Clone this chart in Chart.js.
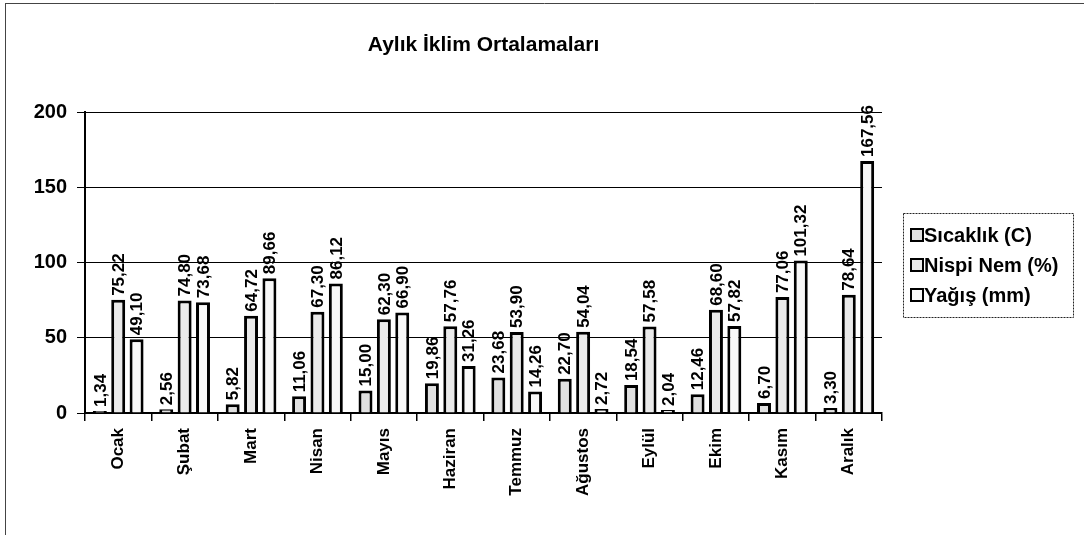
<!DOCTYPE html>
<html lang="tr">
<head>
<meta charset="utf-8">
<title>Aylık İklim Ortalamaları</title>
<script src="https://cdn.jsdelivr.net/npm/chart.js@4.4.1/dist/chart.umd.min.js"></script>
<style>
  html, body { margin: 0; padding: 0; background: #fff; }
  #wrap { width: 1084px; height: 535px; }
</style>
</head>
<body>
<div id="wrap"><canvas id="climateChart" width="1084" height="535"></canvas></div>
<script>
// ── Data ─────────────────────────────────────────────────────────────────────
const months    = ['Ocak', 'Şubat', 'Mart', 'Nisan', 'Mayıs', 'Haziran', 'Temmuz', 'Ağustos', 'Eylül', 'Ekim', 'Kasım', 'Aralık'];
const sicaklik  = [1.34, 2.56, 5.82, 11.06, 15.00, 19.86, 23.68, 22.70, 18.54, 12.46, 6.70, 3.30];
const nispiNem  = [75.22, 74.80, 64.72, 67.30, 62.30, 57.76, 53.90, 54.04, 57.58, 68.60, 77.06, 78.64];
const yagis     = [49.10, 73.68, 89.66, 86.12, 66.90, 31.26, 14.26, 2.72, 2.04, 57.82, 101.32, 167.56];
const yTicks    = [0, 50, 100, 150, 200];

const FONT = '"Liberation Sans", Arial, sans-serif';

// ── Helpers ──────────────────────────────────────────────────────────────────
const fmt = v => v.toFixed(2).replace('.', ',');

// value labels standing upright above each bar
const barLabels = {
    id: 'barLabels',
    afterDatasetsDraw(chart) {
        const ctx = chart.ctx;
        ctx.save();
        ctx.font = 'bold 17px ' + FONT;
        ctx.fillStyle = '#000';
        ctx.textAlign = 'left';
        ctx.textBaseline = 'middle';
        chart.data.datasets.forEach((ds, i) => {
            chart.getDatasetMeta(i).data.forEach((bar, j) => {
                ctx.save();
                ctx.translate(bar.x + 1, bar.y - 4);
                ctx.rotate(-Math.PI / 2);
                ctx.fillText(fmt(ds.data[j]), 0, 0);
                ctx.restore();
            });
        });
        ctx.restore();
    }
};

// frame lines + boxed legend on the right
const frameAndLegend = {
    id: 'frameAndLegend',
    beforeDraw(chart) {
        const ctx = chart.ctx;
        ctx.save();
        ctx.fillStyle = '#fff';
        ctx.fillRect(0, 0, chart.width, chart.height);
        ctx.strokeStyle = '#444';
        ctx.lineWidth = 1;
        ctx.beginPath();
        ctx.moveTo(5.5, 3); ctx.lineTo(5.5, chart.height);
        ctx.moveTo(5, 3.5); ctx.lineTo(chart.width, 3.5);
        ctx.stroke();
        ctx.restore();
    },
    afterDraw(chart) {
        const ctx = chart.ctx;
        const a = chart.chartArea;
        const left = a.right + 21, top = 213, w = 170, h = 104;
        ctx.save();
        ctx.strokeStyle = '#222';
        ctx.lineWidth = 1;
        ctx.setLineDash([2, 1]);
        ctx.strokeRect(left + 0.5, top + 0.5, w, h);
        ctx.setLineDash([]);
        ctx.font = 'bold 20px ' + FONT;
        ctx.textBaseline = 'middle';
        ctx.textAlign = 'left';
        chart.data.datasets.forEach((ds, i) => {
            const cy = top + 22 + i * 30;
            ctx.fillStyle = ds.backgroundColor;
            ctx.fillRect(left + 8, cy - 6, 12, 12);
            ctx.strokeStyle = '#000';
            ctx.lineWidth = 2;
            ctx.strokeRect(left + 8, cy - 6, 12, 12);
            ctx.fillStyle = '#000';
            ctx.fillText(ds.label, left + 21, cy + 1);
        });
        ctx.restore();
    }
};

// ── Chart ────────────────────────────────────────────────────────────────────
const gc = document.getElementById('climateChart').getContext('2d');
new Chart(gc, {
    type: 'bar',
    data: {
        labels: months,
        datasets: [{
            label: 'Sıcaklık (C)',
            data: sicaklik,
            backgroundColor: '#e0e0e0',
        }, {
            label: 'Nispi Nem (%)',
            data: nispiNem,
            backgroundColor: '#eaeaea',
        }, {
            label: 'Yağış (mm)',
            data: yagis,
            backgroundColor: '#f8f8f8',
        }].map(d => Object.assign(d, {
            borderColor: '#000',
            borderWidth: 3,
            borderSkipped: 'bottom',
            categoryPercentage: 0.83,
            barPercentage: 0.76,
        }))
    },
    options: {
        responsive: false,
        animation: false,
        events: [],
        layout: { padding: { left: 20, right: 202, top: 0, bottom: 0 } },
        plugins: {
            legend: { display: false },
            tooltip: { enabled: false },
            title: {
                display: true,
                fullSize: false,
                text: 'Aylık İklim Ortalamaları',
                color: '#000',
                font: { family: FONT, size: 21, weight: 'bold', lineHeight: 1.2 },
                padding: { top: 33, bottom: 54 }
            }
        },
        scales: {
            x: {
                afterFit(scale) { scale.height = 122; },
                border: { color: '#000', width: 1.5 },
                grid: { display: true, drawOnChartArea: false, drawTicks: true, tickLength: 8, color: '#000', lineWidth: 1.5 },
                ticks: {
                    color: '#000',
                    font: { family: FONT, size: 17, weight: 'bold' },
                    minRotation: 90, maxRotation: 90,
                    autoSkip: false,
                    padding: 7
                }
            },
            y: {
                min: yTicks[0],
                max: yTicks[yTicks.length - 1],
                afterFit(scale) { scale.width = 65; },
                afterBuildTicks(scale) { scale.ticks = yTicks.map(v => ({ value: v })); },
                border: { color: '#000', width: 2 },
                grid: { color: '#000', lineWidth: 1, tickLength: 8 },
                ticks: {
                    color: '#000',
                    font: { family: FONT, size: 20, weight: 'bold' },
                    padding: 10
                }
            }
        }
    },
    plugins: [frameAndLegend, barLabels]
});
</script>
</body>
</html>
